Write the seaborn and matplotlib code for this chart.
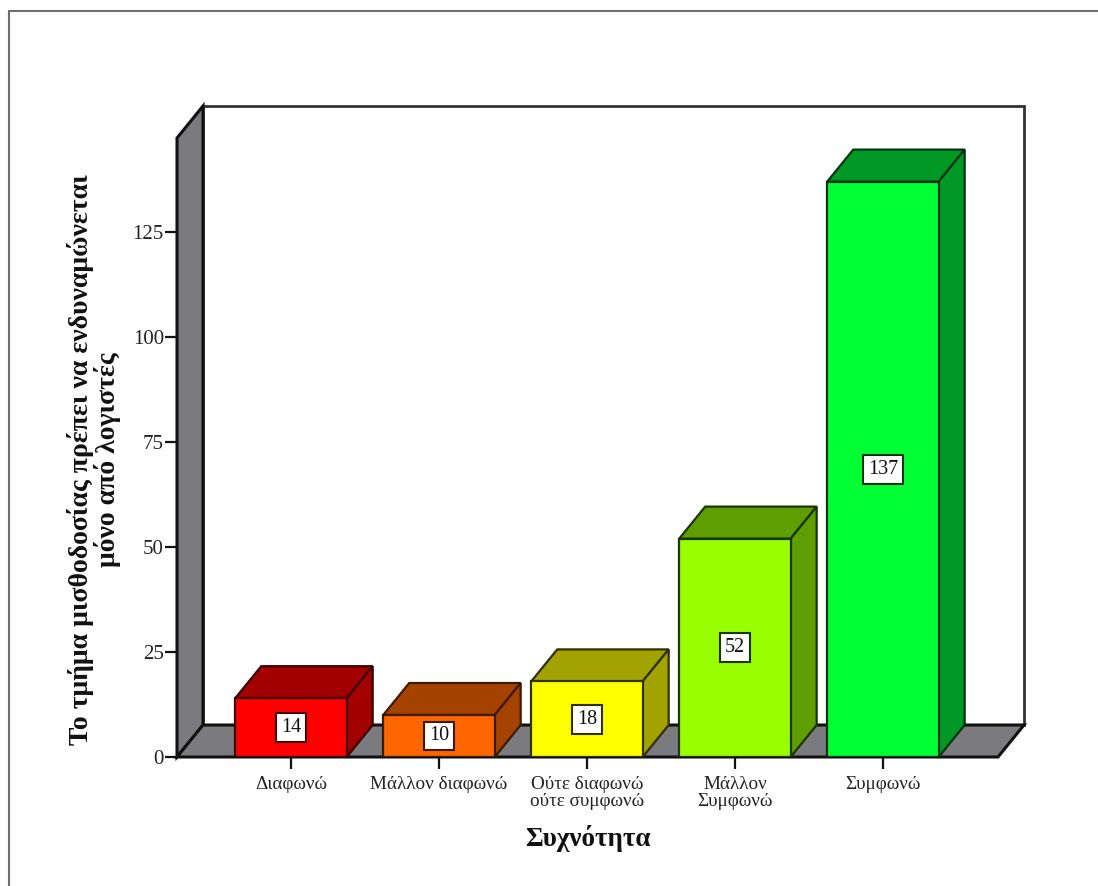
import matplotlib
matplotlib.use("Agg")
import matplotlib.pyplot as plt
from matplotlib.lines import Line2D
from matplotlib.patches import Polygon
import pandas as pd
import seaborn as sns

# Survey responses and their frequencies
categories = ["Διαφωνώ", "Μάλλον διαφωνώ", "Ούτε διαφωνώ\nούτε συμφωνώ",
              "Μάλλον\nΣυμφωνώ", "Συμφωνώ"]
counts = [14, 10, 18, 52, 137]
y_ticks = [0, 25, 50, 75, 100, 125]
face_colors = ["#ff0000", "#ff6600", "#ffff00", "#99ff00", "#00ff33"]
side_colors = ["#a30000", "#a54200", "#a3a300", "#5f9e00", "#009926"]
edge_colors = ["#3c0000", "#3c1a00", "#303000", "#1c3400", "#003314"]
x_title = "Συχνότητα"
y_title = "Το τμήμα μισθοδοσίας πρέπει να ενδυναμώνεται\nμόνο από λογιστές"

W, H = 1098, 886
sns.set_theme(style="white")
plt.rcParams["font.family"] = ["Liberation Serif", "DejaVu Serif"]

fig = plt.figure(figsize=(W / 100, H / 100), dpi=100, facecolor="white")
ax = fig.add_axes([177 / W, (H - 757) / H, (1024 - 177) / W, (757 - 106) / H])

data = pd.DataFrame({"answer": categories, "count": counts})
sns.barplot(data=data, x="answer", y="count", hue="answer", order=categories,
            hue_order=categories, palette=face_colors, legend=False,
            width=0.753, saturation=1, ax=ax, zorder=5)

ax.set_xlim(-0.77, 4.953)
ax.set_ylim(0, 155)
x0, x1 = ax.get_xlim()
y0, y1 = ax.get_ylim()

# Oblique depth of the pseudo-3D projection, in data units
dx = (x1 - x0) * 26 / 847
dy = (y1 - y0) * 32 / 651

ink = "#111111"
wall_gray = "#7b7b7f"

# Back wall, side wall and floor
ax.add_patch(Polygon([(x0 + dx, dy), (x1, dy), (x1, y1), (x0 + dx, y1)],
                     fc="white", ec="#333333", lw=2, zorder=1, clip_on=False))
ax.add_patch(Polygon([(x0, 0), (x0 + dx, dy), (x0 + dx, y1), (x0, y1 - dy)],
                     fc=wall_gray, ec=ink, lw=2.2, zorder=2, clip_on=False))
ax.add_patch(Polygon([(x0, 0), (x1 - dx, 0), (x1, dy), (x0 + dx, dy)],
                     fc=wall_gray, ec=ink, lw=2.2, zorder=2, clip_on=False))

# Extrude every bar with a top and a right face, then label its value
for bar, value, side, edge in zip(ax.patches, counts, side_colors, edge_colors):
    left, right = bar.get_x(), bar.get_x() + bar.get_width()
    bar.set_edgecolor(edge)
    bar.set_linewidth(1.6)
    ax.add_patch(Polygon([(left, value), (right, value), (right + dx, value + dy),
                          (left + dx, value + dy)],
                         fc=side, ec=edge, lw=1.6, zorder=4, clip_on=False))
    ax.add_patch(Polygon([(right, 0), (right + dx, dy), (right + dx, value + dy),
                          (right, value)],
                         fc=side, ec=edge, lw=1.6, zorder=4, clip_on=False))
    ax.text((left + right) / 2, value / 2, str(value), ha="center", va="center",
            fontsize=14.5, color="#111111", zorder=7,
            bbox=dict(boxstyle="square,pad=0.24", fc="white", ec=edge, lw=1.5))

for spine in ax.spines.values():
    spine.set_visible(False)
ax.patch.set_alpha(0)

ax.set_yticks(y_ticks)
ax.set_xticks(range(len(categories)))
ax.set_xticklabels(categories, fontsize=13.8, color="#222222", linespacing=1.0)
ax.tick_params(axis="both", which="major", left=True, bottom=True, length=8.5,
               width=1.6, color=ink)
ax.tick_params(axis="y", labelsize=15, labelcolor="#222222", pad=1)
ax.tick_params(axis="x", pad=5)
ax.set_xlabel("")
ax.set_ylabel("")

fig.text(588 / W, 1 - 838 / H, x_title, fontsize=19.5, fontweight="bold",
         ha="center", va="center", color="#111111")
fig.text(93.5 / W, 1 - 460 / H, y_title, fontsize=20, fontweight="bold", rotation=90,
         ha="center", va="center", color="#111111", linespacing=1.0,
         multialignment="center")

# Page frame along the top and left edges
frame = "#6e6e6e"
fig.add_artist(Line2D([9 / W, 9 / W], [0, 1 - 11 / H], color=frame, lw=1.5))
fig.add_artist(Line2D([9 / W, 1], [1 - 11 / H, 1 - 11 / H], color=frame, lw=1.5))

fig.savefig("out.png", dpi=100)
